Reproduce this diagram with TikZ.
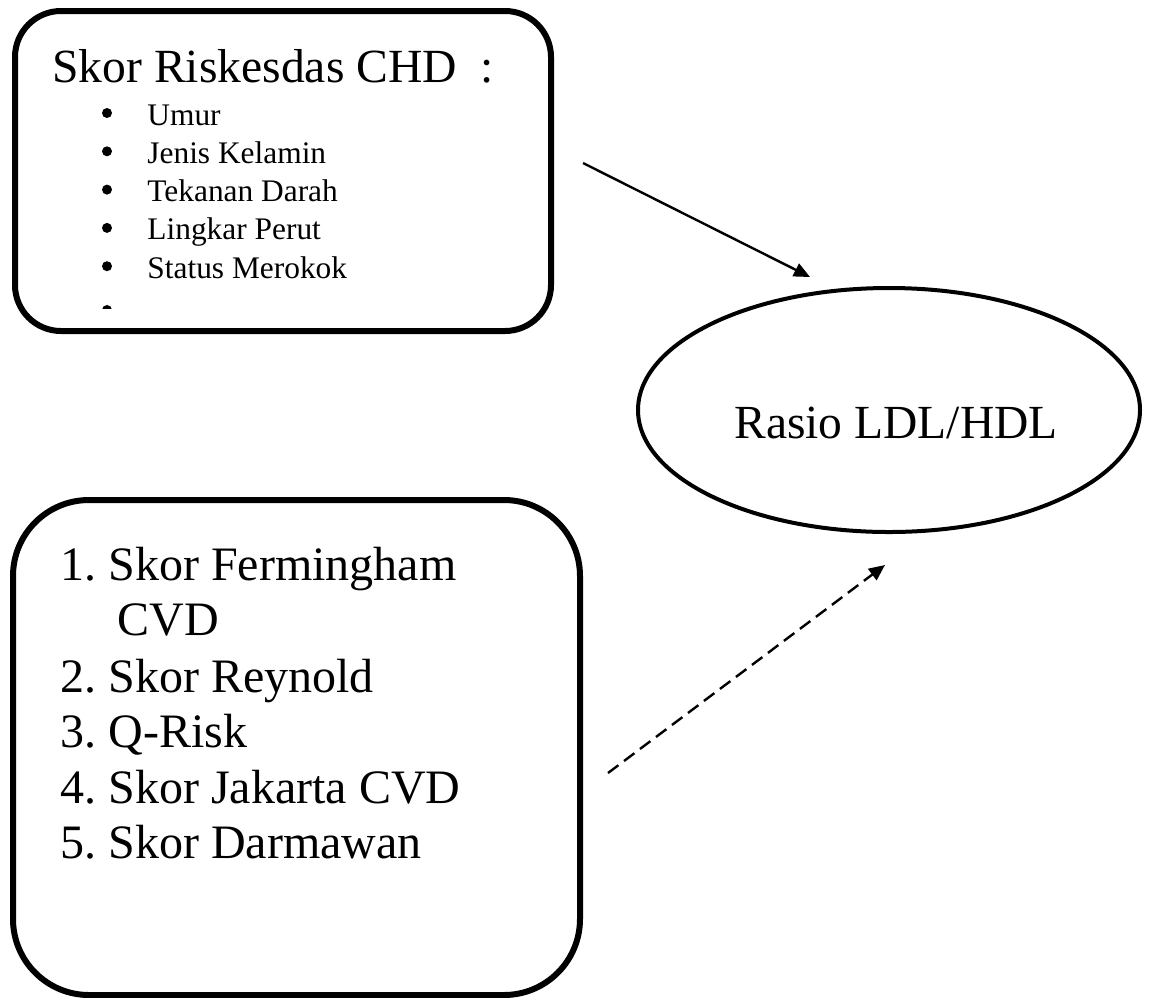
\documentclass[tikz,border=0pt]{standalone}
\usepackage{fontspec}
\setmainfont{Liberation Serif}
\frenchspacing
\usetikzlibrary{shapes,arrows.meta,positioning}
\tikzset{
    box/.style = {draw, rectangle, line width=3pt, inner sep=0pt},
    oval/.style = {draw, ellipse, line width=2pt, inner sep=0pt,
        minimum width=251pt, minimum height=122pt},
    title/.style = {anchor=base west, inner sep=0pt, font=\fontsize{23.8}{28}\selectfont},
    item/.style = {anchor=base west, inner sep=0pt, font=\fontsize{15.7}{19}\selectfont},
    dot/.style = {circle, fill, inner sep=0pt, minimum size=5pt},
    score/.style = {anchor=base west, inner sep=0pt, font=\fontsize{24}{29}\selectfont},
    arrow/.style = {draw, line width=1.2pt, -{Triangle[length=8pt,width=7pt]}}
}

\begin{document}
\begin{tikzpicture}[x=0.5pt, y=-0.5pt]
    \useasboundingbox (0,0) rectangle (1150,997);
    \node [box, rounded corners=23pt, minimum width=268pt, minimum height=160pt] (riskbox) at (283,171) {};
    \node [title] (risktitle) at (52,82) {Skor Riskesdas CHD~~:};
    \foreach \t [count=\i] in {Umur, Jenis Kelamin, Tekanan Darah, Lingkar Perut, Status Merokok}{
        \node [dot] (dot\i) at (107,{74.7+38.3*\i}) {};
        \node [item] (item\i) at (147,{86.7+38.3*\i}) {\t};
    }
    \begin{scope}
        \clip (90,298) rectangle (125,308.5);
        \node [dot] (dot6) at (107,310) {};
    \end{scope}
    \node [box, rounded corners=38pt, minimum width=283.5pt, minimum height=247.5pt] (scorebox) at (296.5,747.5) {};
    \node [score] (score1) at (60,580) {1. Skor Fermingham};
    \node [score] (score1b) at (117,635) {CVD};
    \foreach \t [count=\i from 2] in {Skor Reynold, Q-Risk, Skor Jakarta CVD, Skor Darmawan}{
        \node [score] (score\i) at (60,{581.5+55.4*\i}) {\i. \t};
    }
    \node [oval] (ratio) at (889,410) {};
    \node [inner sep=0pt, anchor=base, font=\fontsize{23.75}{28}\selectfont] (ratiotext) at (896,438) {Rasio LDL/HDL};
    \coordinate (riskout) at (583,163);
    \coordinate (ratioin1) at (810,277);
    \coordinate (scoreout) at (608,773);
    \coordinate (ratioin2) at (885,565);
    \draw [arrow] (riskout) -- (ratioin1);
    \draw [arrow, dash pattern=on 6.5pt off 3.5pt] (scoreout) -- (ratioin2);
\end{tikzpicture}
\end{document}
